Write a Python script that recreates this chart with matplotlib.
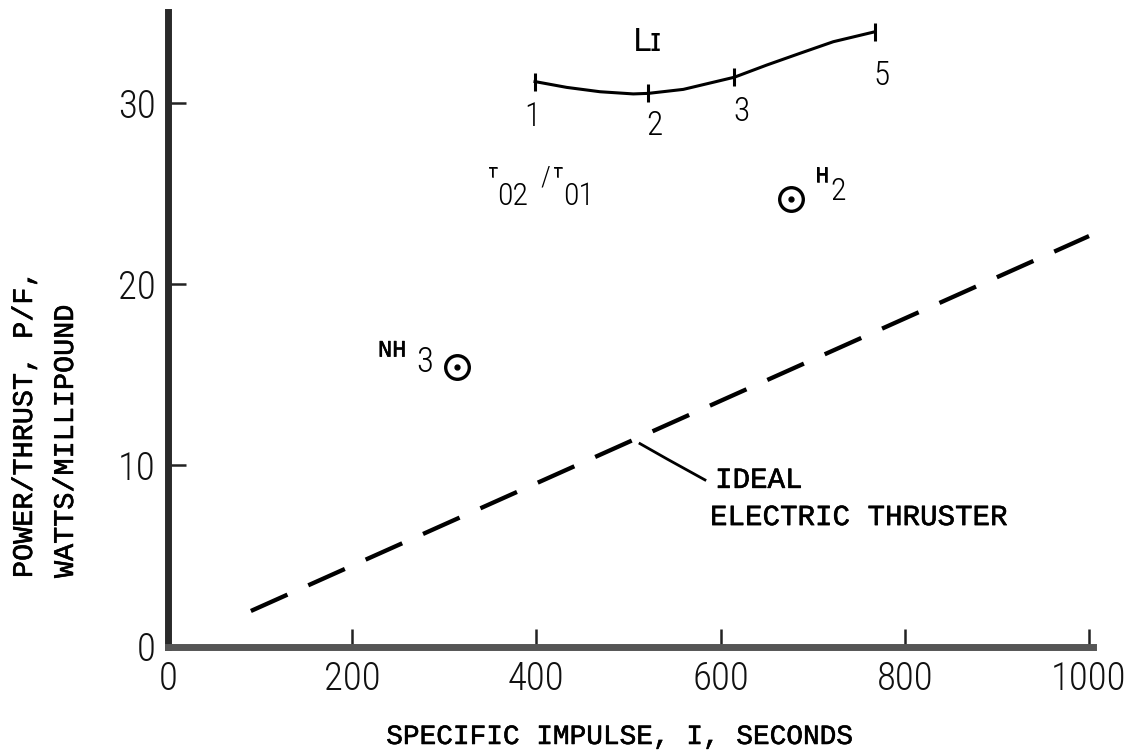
import matplotlib
matplotlib.use("Agg")
import matplotlib.pyplot as plt
import matplotlib.patheffects as pe
from matplotlib import font_manager

# ---------------- data ----------------
ideal_isp = [90, 1000]
ideal_pf = [1.97, 22.65]

li_curve_isp = [398.5, 432.9, 469.1, 505.2, 521.5, 559.5, 614.9, 650.0, 686.2, 722.4, 767.7]
li_curve_pf = [31.17, 30.85, 30.61, 30.49, 30.52, 30.74, 31.41, 32.08, 32.73, 33.37, 33.92]

li_mark_isp = [398.5, 521.5, 614.9, 767.7]
li_mark_pf = [31.17, 30.52, 31.41, 33.92]
li_mark_labels = ["1", "2", "3", "5"]

propellant_isp = [314, 676]
propellant_pf = [15.4, 24.7]

x_ticks = [0, 200, 400, 600, 800, 1000]
y_ticks = [0, 10, 20, 30]

# ---------------- fonts ----------------
names = {f.name for f in font_manager.fontManager.ttflist}
NARROW_FAMILY = ["Roboto Condensed", "DejaVu Sans"] if "Roboto Condensed" in names else ["Roboto", "DejaVu Sans"]
NARROW = dict(fontfamily=NARROW_FAMILY, fontweight="light")
MONO = ["Liberation Mono", "DejaVu Sans Mono"]
thick = [pe.withStroke(linewidth=0.4, foreground="black")]

W, H = 1136, 752
fig = plt.figure(figsize=(W / 100, H / 100), dpi=100)
fig.patch.set_facecolor("white")

x0px, x1px = 168, 168 + 1010 * 0.921
y0px, y1px = 646.7, 646.7 - 35 * 18.13
ax = fig.add_axes([x0px / W, 1 - y0px / H, (x1px - x0px) / W, (y0px - y1px) / H])
ax.set_xlim(0, 1010)
ax.set_ylim(0, 35)
ax.set_facecolor("white")

for s in ["top", "right"]:
    ax.spines[s].set_visible(False)
ax.spines["left"].set_linewidth(5)
ax.spines["left"].set_color("#2a2a2a")
ax.spines["bottom"].set_linewidth(5)
ax.spines["bottom"].set_color("#555555")
ax.spines["bottom"].set_bounds(0, 1004)

ax.set_xticks(x_ticks)
ax.set_yticks(y_ticks)
ax.set_xticklabels([str(v) for v in x_ticks])
ax.set_yticklabels([str(v) for v in y_ticks])
ax.tick_params(axis="both", direction="in", length=13, width=1.8, color="#222222")
ax.tick_params(axis="x", pad=10)
ax.tick_params(axis="y", pad=9)
for lab in ax.get_xticklabels() + ax.get_yticklabels():
    lab.set_fontfamily(NARROW_FAMILY)
    lab.set_fontweight("light")
    lab.set_fontsize(28)
    lab.set_color("#111111")

# ideal electric thruster (dashed)
ax.plot(ideal_isp, ideal_pf, color="black", lw=3.1, dashes=(9.3, 5.3))

# leader line
ax.plot([512.5, 542, 583], [11.2, 10.35, 9.2], color="black", lw=2.0)
ax.text(594, 9.2, "IDEAL", fontfamily=MONO, fontsize=21, va="center", ha="left", path_effects=thick)
ax.text(588.5, 7.15, "ELECTRIC THRUSTER", fontfamily=MONO, fontsize=21, va="center", ha="left",
        path_effects=thick)

# Li curve
ax.plot(li_curve_isp, li_curve_pf, color="black", lw=2.2)
ax.plot(li_mark_isp, li_mark_pf, ls="none", marker="|", ms=13, mew=2.2, color="black")
lab_off = [(396, 29.2), (528, 28.7), (623, 29.5), (775, 31.5)]
for t, (lx, ly) in zip(li_mark_labels, lab_off):
    ax.text(lx, ly, t, fontsize=24, ha="center", va="center", **NARROW)
ax.text(521, 33.3, "Lɪ", fontfamily=["DejaVu Sans"], fontsize=23, ha="center", va="center")

# T02/T01 label
ax.text(347.4, 25.9, "T", fontfamily=MONO, fontsize=11, ha="left", va="baseline", path_effects=thick)
ax.text(357.2, 24.37, "02", fontsize=23, ha="left", va="baseline", **NARROW)
ax.text(404, 25.45, "/", fontsize=20, ha="left", va="baseline", **NARROW)
ax.text(418, 25.9, "T", fontfamily=MONO, fontsize=11, ha="left", va="baseline", path_effects=thick)
ax.text(428.9, 24.37, "01", fontsize=23, ha="left", va="baseline", **NARROW)

# propellant points
ax.plot(propellant_isp, propellant_pf, ls="none", marker="o", ms=17, mfc="white", mec="black", mew=2.4)
ax.plot(propellant_isp, propellant_pf, ls="none", marker="o", ms=3.5, color="black")

# H2 label
ax.text(702.5, 25.62, "H", fontfamily=MONO, fontsize=17, ha="left", va="baseline", path_effects=thick)
ax.text(718.8, 24.63, "2", fontsize=23, ha="left", va="baseline", **NARROW)
# NH3 label
ax.text(228, 16.0, "NH", fontfamily=MONO, fontsize=17, ha="left", va="baseline", path_effects=thick)
ax.text(270, 15.15, "3", fontsize=25, ha="left", va="baseline", **NARROW)

# axis titles
fig.text(619 / W, 1 - 737 / H, "SPECIFIC IMPULSE, I, SECONDS", fontfamily=MONO, fontsize=20,
         ha="center", va="center", path_effects=thick)
fig.text(25 / W, 1 - 578 / H, "POWER/THRUST, P/F,", fontfamily=MONO, fontsize=20.5, rotation=90,
         rotation_mode="anchor", ha="left", va="center", path_effects=thick)
fig.text(66 / W, 1 - 578 / H, "WATTS/MILLIPOUND", fontfamily=MONO, fontsize=20.5, rotation=90,
         rotation_mode="anchor", ha="left", va="center", path_effects=thick)

fig.savefig("out.png", dpi=100, facecolor="white")
